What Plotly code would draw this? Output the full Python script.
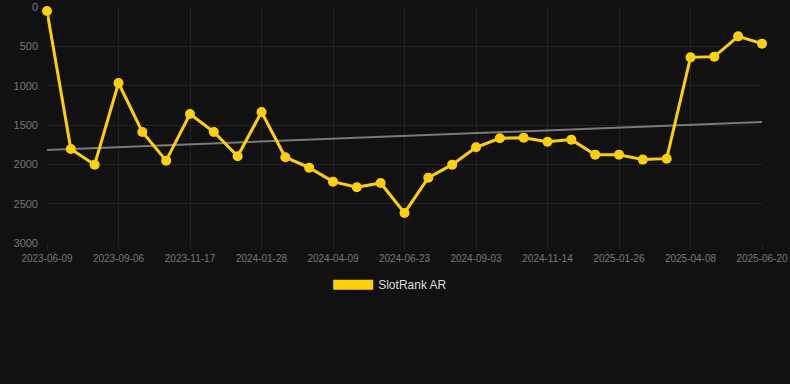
import plotly.graph_objects as go

dates = ["2023-06-09", "2023-07-09", "2023-08-08", "2023-09-06", "2023-09-30", "2023-10-24",
         "2023-11-17", "2023-12-11", "2024-01-04", "2024-01-28", "2024-02-21", "2024-03-16",
         "2024-04-09", "2024-05-04", "2024-05-29", "2024-06-23", "2024-07-17", "2024-08-10",
         "2024-09-03", "2024-09-27", "2024-10-21", "2024-11-14", "2024-12-08", "2025-01-01",
         "2025-01-26", "2025-02-19", "2025-03-15", "2025-04-08", "2025-05-02", "2025-05-26",
         "2025-06-20"]
ranks = [50, 1805, 2004, 966, 1589, 1953, 1360, 1589, 1898, 1335, 1910, 2042, 2220, 2292,
         2237, 2618, 2169, 2004, 1783, 1669, 1661, 1712, 1686, 1877, 1877, 1940, 1928, 640,
         631, 373, 466]
trend_x = [dates[0], dates[-1]]
trend_y = [1817, 1461]
tick_labels = dates[::3]

YELLOW = "#FFD000"

fig = go.Figure()
fig.add_trace(go.Scatter(
    x=trend_x, y=trend_y, mode="lines",
    line=dict(color="#7a7a7a", width=2), showlegend=False, hoverinfo="skip",
))
fig.add_trace(go.Scatter(
    x=dates, y=ranks, mode="lines+markers", name="SlotRank AR",
    line=dict(color=YELLOW, width=3), marker=dict(color=YELLOW, size=10),
    cliponaxis=False, showlegend=False,
))
fig.add_trace(go.Scatter(
    x=[None], y=[None], mode="lines", name="SlotRank AR",
    line=dict(color=YELLOW, width=12), showlegend=True,
))

fig.update_layout(
    width=790, height=384,
    paper_bgcolor="#111111", plot_bgcolor="#111111",
    margin=dict(l=47, r=28, t=7, b=141),
    font=dict(family="Liberation Sans, Arial, sans-serif", color="#888888"),
    showlegend=True,
    legend=dict(orientation="h", x=0.48, xanchor="center", y=-0.115, yanchor="top",
                font=dict(size=12, color="#dddddd"), itemwidth=40,
                bgcolor="rgba(0,0,0,0)"),
    xaxis=dict(
        type="category", categoryorder="array", categoryarray=dates,
        range=[0, len(dates) - 1], automargin=False,
        tickmode="array", tickvals=tick_labels, ticktext=tick_labels,
        showgrid=True, gridcolor="#222222", gridwidth=1,
        zeroline=False, showline=False,
        ticks="outside", ticklen=6, tickcolor="#222222",
        tickfont=dict(size=10, color="#777777"),
    ),
    yaxis=dict(
        range=[3000, 0], tickvals=[0, 500, 1000, 1500, 2000, 2500, 3000],
        automargin=False,
        showgrid=True, gridcolor="#222222", gridwidth=1,
        zeroline=False, showline=False,
        ticks="", ticklabelstandoff=8,
        tickfont=dict(size=11, color="#777777"),
    ),
)

fig.write_html(
    "out.html",
    config={"displayModeBar": False},
    post_script="document.body.style.margin='0';document.body.style.background='#111111';"
                "document.documentElement.style.background='#111111';",
)
